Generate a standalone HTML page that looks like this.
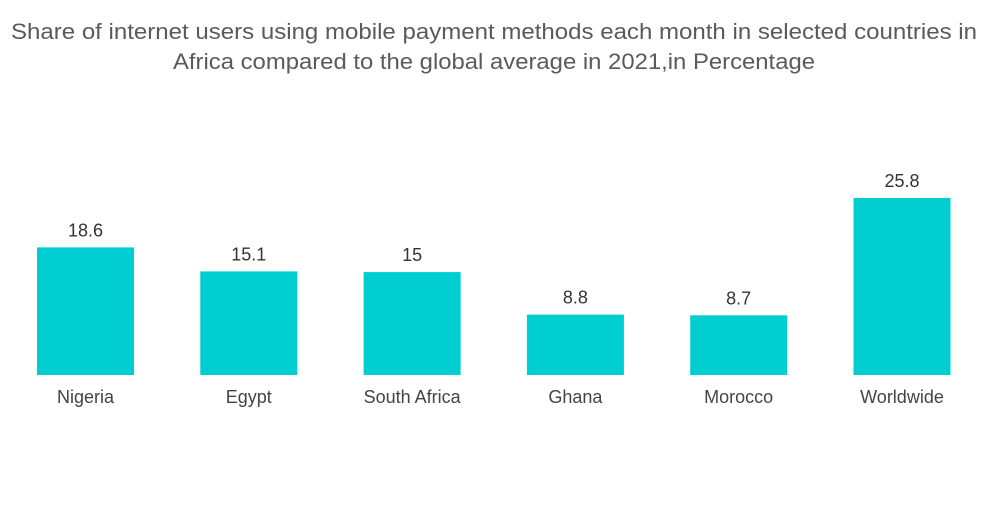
<!DOCTYPE html>
<html>
<head>
<meta charset="utf-8">
<style>
html,body{margin:0;padding:0;background:#fff;}
body{width:1000px;height:504px;overflow:hidden;font-family:"Liberation Sans",sans-serif;}
</style>
</head>
<body>
<svg width="1000" height="504" xmlns="http://www.w3.org/2000/svg">
  <text x="494" y="39" text-anchor="middle" font-size="22" fill="#5a5a5a" textLength="966" lengthAdjust="spacingAndGlyphs">Share of internet users using mobile payment methods each month in selected countries in</text>
  <text x="494" y="69" text-anchor="middle" font-size="22" fill="#5a5a5a" textLength="642" lengthAdjust="spacingAndGlyphs">Africa compared to the global average in 2021,in Percentage</text>
  <g id="bars"></g>
</svg>
<script>
const categories = ["Nigeria","Egypt","South Africa","Ghana","Morocco","Worldwide"];
const values = [18.6, 15.1, 15, 8.8, 8.7, 25.8];
const valueLabels = ["18.6","15.1","15","8.8","8.7","25.8"];

const baseline = 375, pxPerUnit = 177/25.8;
const firstCenter = 85.5, step = 163.3, barW = 97;
function x(i){ return firstCenter + i*step; }
function y(v){ return baseline - v*pxPerUnit; }
const NS = "http://www.w3.org/2000/svg";
const g = document.getElementById("bars");
categories.forEach((c,i)=>{
  const r = document.createElementNS(NS,"rect");
  r.setAttribute("x", x(i)-barW/2);
  r.setAttribute("y", y(values[i]));
  r.setAttribute("width", barW);
  r.setAttribute("height", baseline - y(values[i]));
  r.setAttribute("fill", "#00CED1");
  
  
  g.appendChild(r);
  const t = document.createElementNS(NS,"text");
  t.setAttribute("x", x(i));
  t.setAttribute("y", y(values[i]) - 11);
  t.setAttribute("text-anchor","middle");
  t.setAttribute("font-size","18");
  t.setAttribute("fill","#333");
  t.textContent = valueLabels[i];
  
  
  g.appendChild(t);
  const l = document.createElementNS(NS,"text");
  l.setAttribute("x", x(i));
  l.setAttribute("y", 403);
  l.setAttribute("text-anchor","middle");
  l.setAttribute("font-size","18");
  l.setAttribute("fill","#444");
  l.textContent = c;
  
  
  g.appendChild(l);
});
</script>
</body>
</html>
